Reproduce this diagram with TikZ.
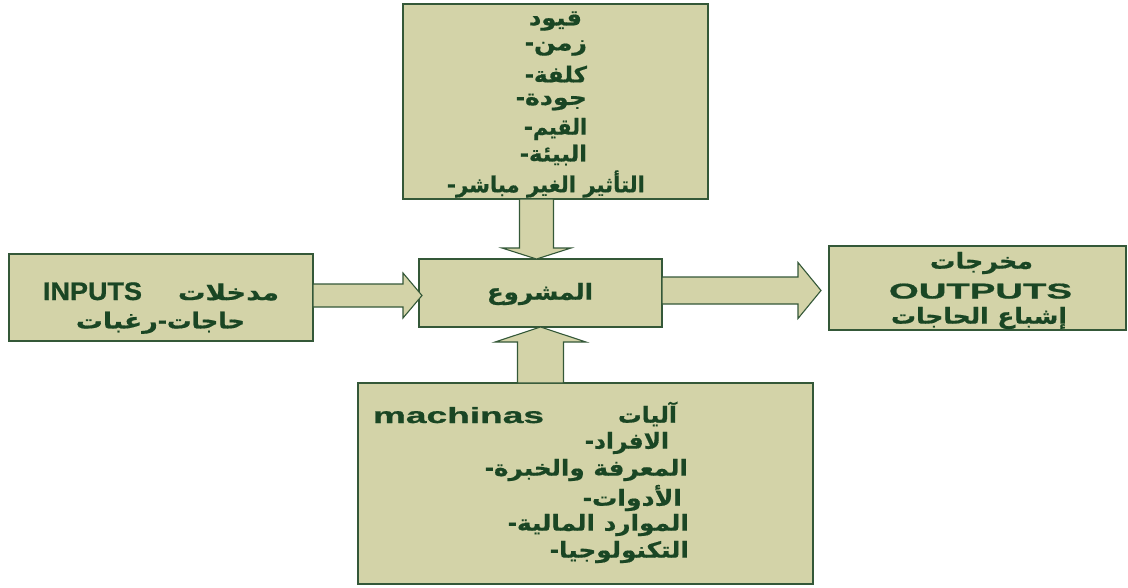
\documentclass[tikz,border=0pt]{standalone}
\usepackage{fontspec}
\usetikzlibrary{calc}
\TeXXeTstate=1
\newfontfamily\arabicfont[Script=Arabic, BoldFeatures={FakeBold=0.6}]{DejaVu Sans}
\newfontfamily\latinfont[BoldFeatures={FakeBold=0.8}]{Liberation Sans}
\definecolor{boxfill}{RGB}{211,211,168}
\definecolor{boxline}{RGB}{52,88,56}
\definecolor{ink}{RGB}{26,70,36}
% text stretched sideways to a given width
\newcommand{\wide}[2]{\resizebox{#1}{\height}{#2}}
% Latin word stretched to a given width and cap height
\newcommand{\lat}[3]{\resizebox{#1}{#2}{\latinfont\bfseries #3}}
\tikzset{
  box/.style={draw=boxline, fill=boxfill, line width=1.3pt, rectangle,
              inner sep=0pt, outer sep=0pt},
  txt/.style={text=ink, inner sep=0pt, outer sep=0pt,
              font=\arabicfont\bfseries\fontsize{22}{22}\selectfont},
  bullet/.style={txt, anchor=base east},
  blockarrow/.style={draw=boxline, fill=boxfill, line width=1.1pt, line join=miter}
}
\begin{document}
\begin{tikzpicture}[x=1pt,y=-1pt]
\useasboundingbox (0,0) rectangle (1128,587);

% boxes
\node[box, minimum width=305pt, minimum height=195pt] (cons) at (555.5,101.5) {};
\node[box, minimum width=243pt, minimum height=68pt]  (mid)  at (540.5,293) {};
\node[box, minimum width=304pt, minimum height=87pt]  (inp)  at (161,297.5) {};
\node[box, minimum width=297pt, minimum height=84pt]  (out)  at (977.5,288) {};
\node[box, minimum width=455pt, minimum height=201pt] (res)  at (585.5,483.5) {};

% block arrows
\coordinate (dx) at (536.5,0);
\draw[blockarrow] let \p1=(dx |- cons.south), \p2=(dx |- mid.north) in
  (\x1-17pt,\y1) -- (\x1+17pt,\y1) -- (\x1+17pt,\y2+11pt) -- (\x1+34.5pt,\y2+11pt)
  -- (\x2,\y2) -- (\x1-34.5pt,\y2+11pt) -- (\x1-17pt,\y2+11pt) -- cycle;

\coordinate (ux) at (540.5,0);
\draw[blockarrow] let \p1=(ux |- res.north), \p2=(ux |- mid.south) in
  (\x1-23pt,\y1) -- (\x1+23pt,\y1) -- (\x1+23pt,\y2-15pt) -- (\x1+45.5pt,\y2-15pt)
  -- (\x2,\y2) -- (\x1-45.5pt,\y2-15pt) -- (\x1-23pt,\y2-15pt) -- cycle;

\coordinate (ly) at (0,295.5);
\draw[blockarrow] let \p1=(inp.east |- ly), \p2=($(mid.west |- ly)+(3,0)$) in
  (\x1,\y1+11.5pt) -- (\x2-19pt,\y1+11.5pt) -- (\x2-19pt,\y1+22.5pt) -- (\x2,\y2)
  -- (\x2-19pt,\y1-22.5pt) -- (\x2-19pt,\y1-11.5pt) -- (\x1,\y1-11.5pt) -- cycle;

\coordinate (ry) at (0,290.5);
\draw[blockarrow] let \p1=(mid.east |- ry), \p2=($(out.west |- ry)+(-8,0)$) in
  (\x1,\y1+13.5pt) -- (\x2-23pt,\y1+13.5pt) -- (\x2-23pt,\y1+28pt) -- (\x2,\y2)
  -- (\x2-23pt,\y1-28pt) -- (\x2-23pt,\y1-13.5pt) -- (\x1,\y1-13.5pt) -- cycle;

% constraints
\node[txt] (c1) at (555.5,21) {\wide{53pt}{\beginR قيود\endR}};
\node[txt, anchor=east] (c2) at (587,48)  {\wide{53pt}{\beginR زمن\endR}};
\node[txt, anchor=east] (c3) at (587,74)  {\wide{53pt}{\beginR كلفة\endR}};
\node[txt, anchor=east] (c4) at (587,102) {\wide{62pt}{\beginR جودة\endR}};
\node[txt, anchor=east] (c5) at (587,129) {\wide{54pt}{\beginR القيم\endR}};
\node[txt, anchor=east] (c6) at (587,155) {\wide{58pt}{\beginR البيئة\endR}};
\node[txt, anchor=east] (c7) at (645,184) {\wide{189pt}{\beginR التأثير الغير مباشر\endR}};
\foreach \n in {c2,c3,c4,c5,c6,c7}
  \node[bullet] (\n d) at (\n.base west) {-};

% project
\node[txt] (m1) at (540,294) {\wide{106pt}{\beginR المشروع\endR}};

% inputs
\node[txt, anchor=base west] (i1) at (43,300) {\lat{99pt}{17.7pt}{INPUTS}};
\node[txt, anchor=east] (i2) at (279,292) {\wide{101pt}{\beginR مدخلات\endR}};
\node[txt, anchor=east] (i3) at (245,322) {\wide{78pt}{\beginR حاجات\endR}};
\node[bullet] (i3d) at (i3.base west) {-};
\node[txt, anchor=base east] (i4) at (i3d.base west) {\wide{82pt}{\beginR رغبات\endR}};

% outputs
\node[txt] (o1) at (981.5,263) {\wide{103pt}{\beginR مخرجات\endR}};
\node[txt, anchor=base] (o2) at (980.5,298.5) {\lat{183pt}{15pt}{OUTPUTS}};
\node[txt] (o3) at (979,318) {\wide{176pt}{\beginR إشباع الحاجات\endR}};

% resources
\node[txt, anchor=base west] (r0) at (373,423) {\lat{171pt}{16pt}{machinas}};
\node[txt, anchor=east] (r1) at (677,414) {\wide{59pt}{\beginR آليات\endR}};
\node[txt, anchor=east] (r2) at (669,443) {\wide{75pt}{\beginR الافراد\endR}};
\node[txt, anchor=east] (r3) at (688,470) {\wide{194pt}{\beginR المعرفة والخبرة\endR}};
\node[txt, anchor=east] (r4) at (682,498) {\wide{90pt}{\beginR الأدوات\endR}};
\node[txt, anchor=east] (r5) at (689,525) {\wide{172pt}{\beginR الموارد المالية\endR}};
\node[txt, anchor=east] (r6) at (689,552) {\wide{130pt}{\beginR التكنولوجيا\endR}};
\foreach \n in {r2,r3,r4,r5,r6}
  \node[bullet] (\n d) at (\n.base west) {-};
\end{tikzpicture}
\end{document}
